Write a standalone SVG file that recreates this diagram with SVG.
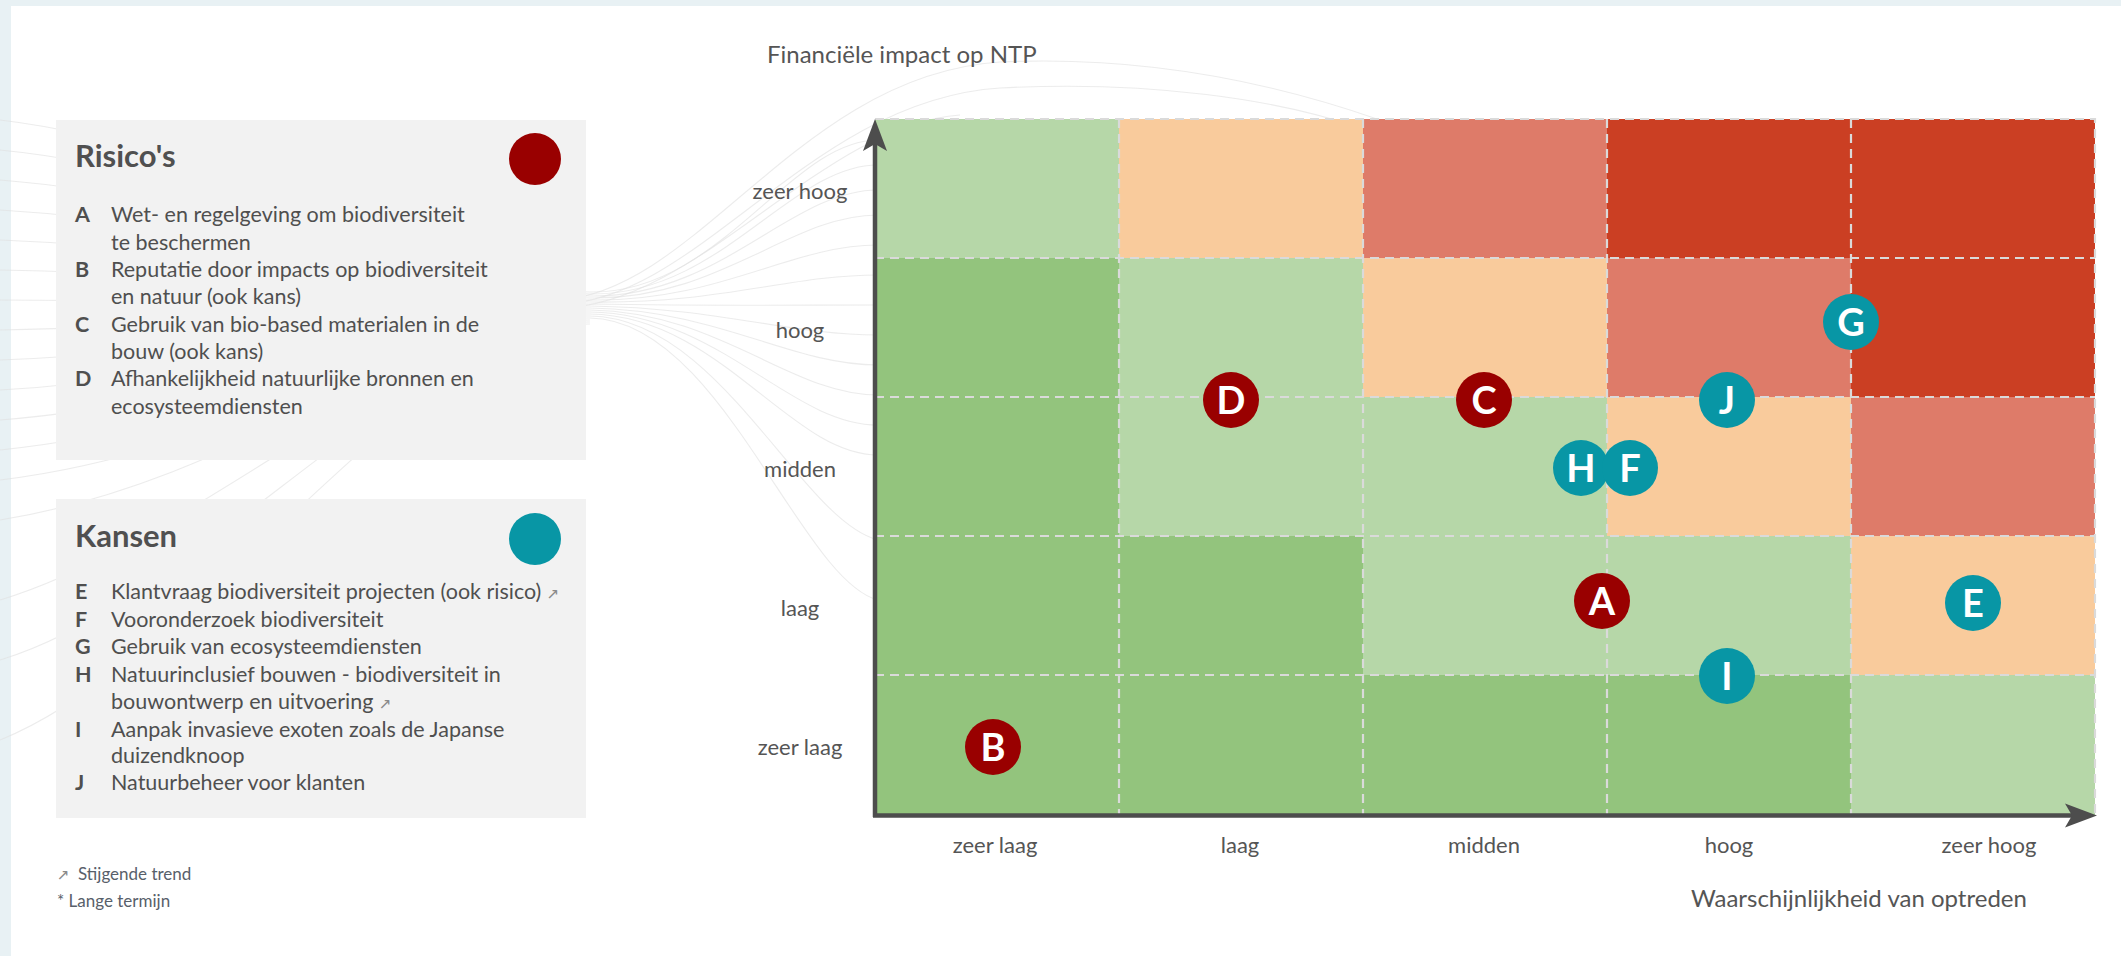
<svg xmlns="http://www.w3.org/2000/svg" width="2121" height="956" viewBox="0 0 2121 956">
<style>
text{font-family:Lato,"Open Sans","Liberation Sans",sans-serif;fill:#4f4f4f}
.title{font-size:31px;font-weight:700;fill:#505050}
.item{font-size:21.5px}
.lt{font-size:21.5px;font-weight:700}
.tick{font-size:22px;fill:#555}
.axt{font-size:24px;fill:#555}
.foot{font-size:17px;fill:#58606a}
.arr{font-family:"DejaVu Sans",sans-serif;font-size:15px;fill:#8a8a8a}
.swoosh{fill:none;stroke:#e0e0e0;stroke-width:1.1;opacity:.6}
.lg{fill:#b6d7a8}.g{fill:#93c47d}.p{fill:#f9cb9c}.s{fill:#de7b69}.r{fill:#cb3f23}
.grid{stroke:#dadada;stroke-width:2.2;stroke-dasharray:9 6;fill:none}
.axis{stroke:#4d4d4d;stroke-width:4.5;fill:none}
.mk text{font-size:38px;font-weight:700;fill:#fff;text-anchor:middle}
.risk{fill:#990000}.kans{fill:#0896a5}
</style>
<rect x="0" y="0" width="2121" height="956" fill="#fff"/>
<rect x="0" y="0" width="2121" height="6" fill="#e8f1f4"/>
<rect x="0" y="0" width="11" height="956" fill="#e8f1f4"/>

<g id="background-swooshes">
<path class="swoosh" d="M0 120 C250 150 420 290 590 292 C720 294 790 140 878 140"/>
<path class="swoosh" d="M0 150 C250 175 420 292 590 294 C720 296 790 165 878 165"/>
<path class="swoosh" d="M0 180 C250 200 420 294 590 296 C720 298 790 190 878 190"/>
<path class="swoosh" d="M0 210 C250 225 420 296 590 298 C720 300 790 215 878 215"/>
<path class="swoosh" d="M0 240 C250 250 420 298 590 300 C720 302 790 245 878 245"/>
<path class="swoosh" d="M0 270 C250 275 420 300 590 302 C720 304 790 275 878 275"/>
<path class="swoosh" d="M0 300 C250 300 420 302 590 304 C720 306 790 305 878 305"/>
<path class="swoosh" d="M0 330 C250 325 420 304 590 306 C720 308 790 335 878 335"/>
<path class="swoosh" d="M0 360 C250 350 420 306 590 308 C720 310 790 365 878 365"/>
<path class="swoosh" d="M0 390 C250 375 420 308 590 310 C720 312 790 395 878 395"/>
<path class="swoosh" d="M0 420 C250 400 420 310 590 312 C720 314 790 425 878 425"/>
<path class="swoosh" d="M0 450 C250 425 420 312 590 314 C720 316 790 455 878 455"/>
<path class="swoosh" d="M0 480 C250 450 420 314 590 316 C720 318 800 520 878 540"/>
<path class="swoosh" d="M0 520 C250 480 420 316 590 318 C720 320 800 580 878 600"/>
<path class="swoosh" d="M0 600 C200 540 420 318 590 320"/>
<path class="swoosh" d="M0 660 C200 600 420 320 590 322"/>
<path class="swoosh" d="M0 740 C200 660 420 322 590 324"/>
<path class="swoosh" d="M560 300 C700 290 800 75 1000 62 C1150 55 1280 85 1380 120"/>
<path class="swoosh" d="M560 304 C700 300 810 100 1000 88 C1150 80 1280 100 1360 128"/>
<path class="swoosh" d="M560 308 C700 305 820 125 960 115"/>
</g>

<g id="legend-risicos">
<rect x="56" y="120" width="530" height="340" fill="#f2f2f2"/>
<text class="title" x="75" y="167">Risico's</text>
<circle cx="535" cy="159" r="26" class="risk"/>
<text class="lt" x="75" y="222">A</text>
<text class="item" x="111" y="222">Wet- en regelgeving om biodiversiteit</text>
<text class="item" x="111" y="249.5">te beschermen</text>
<text class="lt" x="75" y="277">B</text>
<text class="item" x="111" y="277">Reputatie door impacts op biodiversiteit</text>
<text class="item" x="111" y="304">en natuur (ook kans)</text>
<text class="lt" x="75" y="331.5">C</text>
<text class="item" x="111" y="331.5">Gebruik van bio-based materialen in de</text>
<text class="item" x="111" y="359">bouw (ook kans)</text>
<text class="lt" x="75" y="386">D</text>
<text class="item" x="111" y="386">Afhankelijkheid natuurlijke bronnen en</text>
<text class="item" x="111" y="413.5">ecosysteemdiensten</text>
</g>

<g id="legend-kansen">
<rect x="56" y="499" width="530" height="319" fill="#f2f2f2"/>
<text class="title" x="75" y="547">Kansen</text>
<circle cx="535" cy="539" r="26" class="kans"/>
<text class="lt" x="75" y="599">E</text>
<text class="item" x="111" y="599">Klantvraag biodiversiteit projecten (ook risico) <tspan class="arr">↗</tspan></text>
<text class="lt" x="75" y="627">F</text>
<text class="item" x="111" y="627">Vooronderzoek biodiversiteit</text>
<text class="lt" x="75" y="654">G</text>
<text class="item" x="111" y="654">Gebruik van ecosysteemdiensten</text>
<text class="lt" x="75" y="682">H</text>
<text class="item" x="111" y="682">Natuurinclusief bouwen - biodiversiteit in</text>
<text class="item" x="111" y="709">bouwontwerp en uitvoering <tspan class="arr">↗</tspan></text>
<text class="lt" x="75" y="737">I</text>
<text class="item" x="111" y="737">Aanpak invasieve exoten zoals de Japanse</text>
<text class="item" x="111" y="763">duizendknoop</text>
<text class="lt" x="75" y="790">J</text>
<text class="item" x="111" y="790">Natuurbeheer voor klanten</text>
</g>

<g id="footnotes">
<text class="arr" x="57" y="880">↗</text>
<text class="foot" x="78" y="880">Stijgende trend</text>
<text class="foot" x="57" y="907">* Lange termijn</text>
</g>

<g id="matrix">
<rect class="lg" x="875" y="119" width="244" height="139"/>
<rect class="p" x="1119" y="119" width="244" height="139"/>
<rect class="s" x="1363" y="119" width="244" height="139"/>
<rect class="r" x="1607" y="119" width="244" height="139"/>
<rect class="r" x="1851" y="119" width="244" height="139"/>
<rect class="g" x="875" y="258" width="244" height="139"/>
<rect class="lg" x="1119" y="258" width="244" height="139"/>
<rect class="p" x="1363" y="258" width="244" height="139"/>
<rect class="s" x="1607" y="258" width="244" height="139"/>
<rect class="r" x="1851" y="258" width="244" height="139"/>
<rect class="g" x="875" y="397" width="244" height="139"/>
<rect class="lg" x="1119" y="397" width="244" height="139"/>
<rect class="lg" x="1363" y="397" width="244" height="139"/>
<rect class="p" x="1607" y="397" width="244" height="139"/>
<rect class="s" x="1851" y="397" width="244" height="139"/>
<rect class="g" x="875" y="536" width="244" height="139"/>
<rect class="g" x="1119" y="536" width="244" height="139"/>
<rect class="lg" x="1363" y="536" width="244" height="139"/>
<rect class="lg" x="1607" y="536" width="244" height="139"/>
<rect class="p" x="1851" y="536" width="244" height="139"/>
<rect class="g" x="875" y="675" width="244" height="140"/>
<rect class="g" x="1119" y="675" width="244" height="140"/>
<rect class="g" x="1363" y="675" width="244" height="140"/>
<rect class="g" x="1607" y="675" width="244" height="140"/>
<rect class="lg" x="1851" y="675" width="244" height="140"/>
<path class="grid" d="M875 119 H2095 V815 M875 258 H2095 M875 397 H2095 M875 536 H2095 M875 675 H2095 M1119 119 V815 M1363 119 V815 M1607 119 V815 M1851 119 V815"/>
</g>

<g id="axes">
<path class="axis" d="M875 817 V140 M873 815.5 H2074"/>
<path d="M875 119 L887 151 L875 144 L863 151 Z" fill="#4d4d4d"/>
<path d="M2097 815.5 L2065 827.5 L2072 815.5 L2065 803.5 Z" fill="#4d4d4d"/>
<text class="axt" x="767" y="63">Financiële impact op NTP</text>
<text class="axt" x="1691" y="907">Waarschijnlijkheid van optreden</text>
<g text-anchor="middle">
<text class="tick" x="800" y="199">zeer hoog</text>
<text class="tick" x="800" y="338">hoog</text>
<text class="tick" x="800" y="477">midden</text>
<text class="tick" x="800" y="616">laag</text>
<text class="tick" x="800" y="755">zeer laag</text>
<text class="tick" x="995" y="853">zeer laag</text>
<text class="tick" x="1240" y="853">laag</text>
<text class="tick" x="1484" y="853">midden</text>
<text class="tick" x="1729" y="853">hoog</text>
<text class="tick" x="1989" y="853">zeer hoog</text>
</g>
</g>

<g id="markers" class="mk">
<g id="marker-A"><circle class="risk" cx="1602" cy="601" r="28"/><text x="1602" y="615">A</text></g>
<g id="marker-B"><circle class="risk" cx="993" cy="747" r="28"/><text x="993" y="761">B</text></g>
<g id="marker-C"><circle class="risk" cx="1484" cy="400" r="28"/><text x="1484" y="414">C</text></g>
<g id="marker-D"><circle class="risk" cx="1231" cy="400" r="28"/><text x="1231" y="414">D</text></g>
<g id="marker-E"><circle class="kans" cx="1973" cy="603" r="28"/><text x="1973" y="617">E</text></g>
<g id="marker-H"><circle class="kans" cx="1581" cy="468" r="28"/><text x="1581" y="482">H</text></g>
<g id="marker-F"><circle class="kans" cx="1630" cy="468" r="28"/><text x="1630" y="482">F</text></g>
<g id="marker-G"><circle class="kans" cx="1851" cy="322" r="28"/><text x="1851" y="336">G</text></g>
<g id="marker-I"><circle class="kans" cx="1727" cy="676" r="28"/><text x="1727" y="690">I</text></g>
<g id="marker-J"><circle class="kans" cx="1727" cy="400" r="28"/><text x="1727" y="414">J</text></g>
</g>
</svg>
